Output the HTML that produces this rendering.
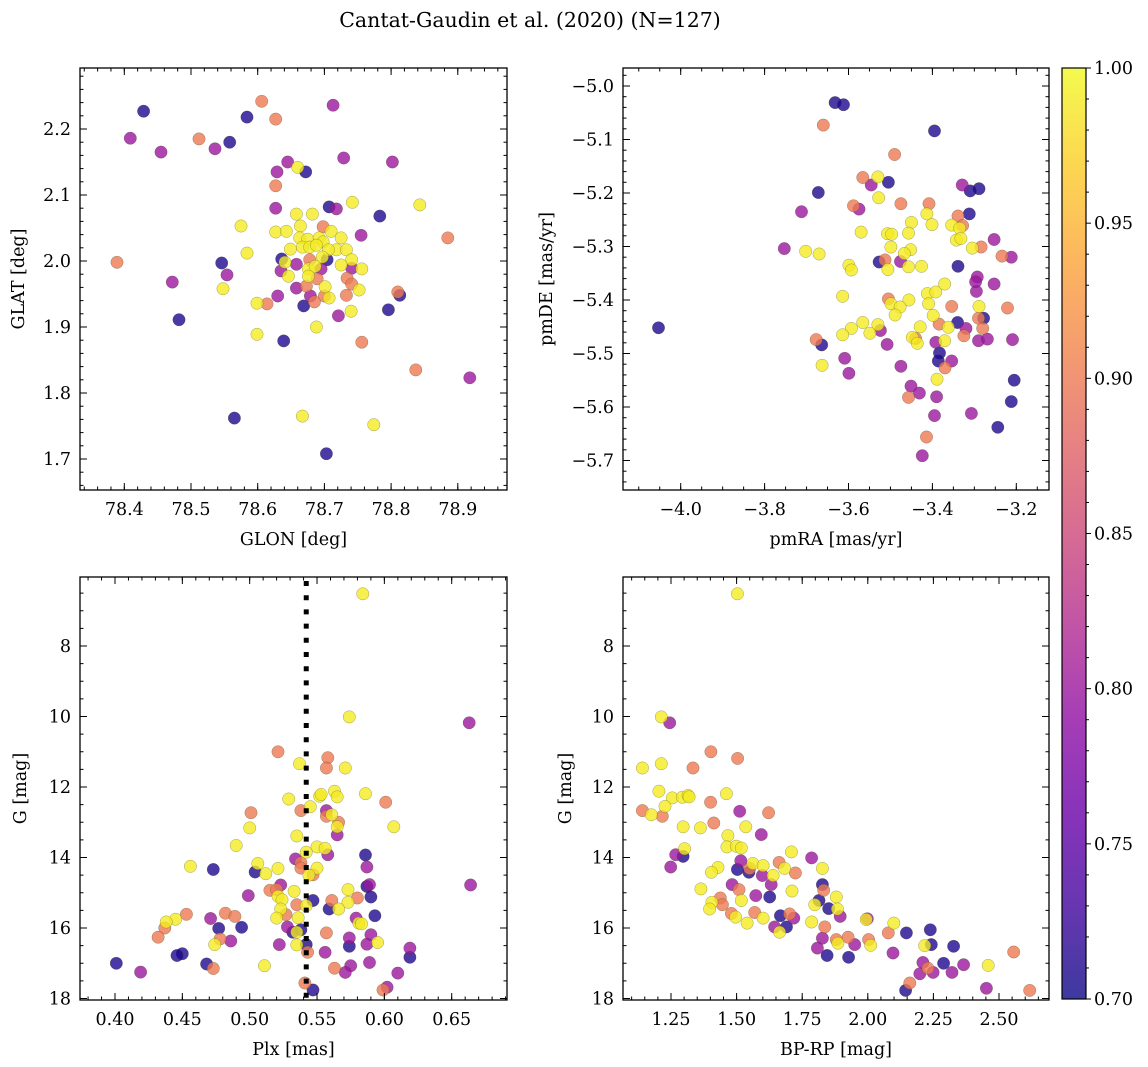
<!DOCTYPE html>
<html><head><meta charset="utf-8">
<style>
html,body{margin:0;padding:0;background:#fff;}
svg{display:block;font-family:"DejaVu Serif","Liberation Serif",serif;}
</style></head>
<body>
<svg id="fig" width="1148" height="1067" viewBox="0 0 1148 1067" xmlns="http://www.w3.org/2000/svg">
<defs>
<linearGradient id="cbgrad" x1="0" y1="1" x2="0" y2="0">
<stop offset="0" stop-color="#0d0887"/><stop offset="0.1" stop-color="#41049d"/><stop offset="0.2" stop-color="#6a00a8"/><stop offset="0.3" stop-color="#8f0da4"/><stop offset="0.4" stop-color="#b12a90"/><stop offset="0.5" stop-color="#cc4778"/><stop offset="0.6" stop-color="#e16462"/><stop offset="0.7" stop-color="#f2844b"/><stop offset="0.8" stop-color="#fca636"/><stop offset="0.9" stop-color="#fcce25"/><stop offset="1" stop-color="#f0f921"/>
</linearGradient>
</defs>
<text x="530" y="27" text-anchor="middle" font-size="20.5">Cantat-Gaudin et al. (2020) (N=127)</text>
</svg>
<script>
// ---- Panel 1: GLON vs GLAT ----
const tlGlon=[78.429,78.409,78.455,78.512,78.536,78.558,78.584,78.606,78.627,78.713,78.729,78.802,78.645,78.629,78.660,78.672,78.627,78.627,78.707,78.718,78.742,78.783,78.843,78.885,78.575,78.584,78.389,78.546,78.554,78.472,78.548,78.482,78.599,78.614,78.630,78.599,78.639,78.565,78.667,78.774,78.703,78.837,78.918,78.756,78.796,78.813,78.810,78.740,78.721,78.688,78.669,
78.658,78.682,78.664,78.627,78.643,78.698,78.710,78.725,78.755,78.663,78.675,78.692,78.698,78.649,78.667,78.678,78.688,78.718,78.733,78.706,78.704,78.636,78.697,78.641,78.658,78.678,78.741,78.725,78.756,78.741,78.676,78.686,78.695,78.635,78.646,78.676,78.689,78.734,78.741,78.658,78.673,78.701,78.752,78.679,78.700,78.707,78.733,78.685];
const tlGlat=[2.227,2.186,2.165,2.185,2.170,2.180,2.218,2.242,2.215,2.236,2.156,2.150,2.150,2.135,2.142,2.135,2.114,2.080,2.082,2.079,2.089,2.068,2.085,2.035,2.053,2.012,1.998,1.997,1.979,1.968,1.958,1.911,1.936,1.935,1.947,1.889,1.879,1.762,1.765,1.752,1.708,1.835,1.823,1.877,1.926,1.948,1.953,1.924,1.917,1.900,1.932,
2.071,2.071,2.053,2.044,2.045,2.052,2.045,2.035,2.039,2.035,2.033,2.035,2.029,2.018,2.021,2.021,2.024,2.017,2.017,2.017,2.002,2.003,2.006,1.998,1.995,2.002,2.002,1.994,1.988,1.989,1.988,1.992,1.988,1.985,1.977,1.977,1.973,1.974,1.965,1.959,1.962,1.961,1.956,1.947,1.947,1.944,1.948,1.938];
const tlProb=[0.71,0.80,0.80,0.90,0.80,0.71,0.71,0.90,0.90,0.80,0.80,0.80,0.80,0.80,0.99,0.71,0.90,0.80,0.71,0.80,0.99,0.71,0.99,0.90,0.99,0.99,0.90,0.71,0.80,0.80,0.99,0.71,0.99,0.90,0.80,0.99,0.71,0.71,0.99,0.99,0.71,0.90,0.80,0.90,0.71,0.71,0.90,0.99,0.80,0.99,0.71,
0.99,0.99,0.99,0.99,0.99,0.90,0.99,0.99,0.80,0.99,0.99,0.99,0.99,0.99,0.99,0.99,0.99,0.99,0.99,0.99,0.71,0.71,0.99,0.99,0.80,0.90,0.99,0.99,0.99,0.80,0.99,0.99,0.80,0.80,0.99,0.99,0.90,0.90,0.90,0.80,0.90,0.99,0.99,0.80,0.90,0.99,0.90,0.90];

// ---- Panel 2: pmRA vs pmDE ----
const trPmra=[-4.053,-3.632,-3.612,-3.660,-3.395,-3.490,-3.566,-3.530,-3.546,-3.505,-3.329,-3.310,-3.289,-3.672,-3.528,-3.712,-3.588,-3.575,-3.475,-3.408,-3.413,-3.401,-3.450,-3.312,-3.339,-3.354,-3.328,-3.335,-3.343,-3.332,-3.305,-3.284,-3.253,-3.234,-3.212,-3.570,-3.507,-3.497,-3.457,-3.499,-3.452,-3.467,-3.753,-3.702,-3.670,-3.599,-3.593,-3.527,-3.513,-3.476,-3.506,-3.457,-3.426,-3.339,-3.293,-3.297,-3.295,-3.253,-3.614,-3.412,-3.392,-3.371,-3.409,-3.456,-3.505,-3.499,-3.477,-3.489,-3.398,-3.354,-3.289,-3.221,-3.278,-3.290,-3.340,-3.384,-3.362,-3.320,-3.280,-3.325,-3.429,-3.566,-3.593,-3.614,-3.549,-3.530,-3.524,-3.677,-3.664,-3.663,-3.609,-3.599,-3.508,-3.448,-3.440,-3.436,-3.392,-3.371,-3.383,-3.386,-3.354,-3.370,-3.290,-3.269,-3.209,-3.475,-3.389,-3.451,-3.431,-3.457,-3.390,-3.205,-3.212,-3.395,-3.307,-3.244,-3.414,-3.424];
const trPmde=[-5.452,-5.031,-5.035,-5.073,-5.084,-5.128,-5.171,-5.170,-5.185,-5.180,-5.185,-5.196,-5.192,-5.199,-5.209,-5.235,-5.224,-5.230,-5.220,-5.220,-5.239,-5.259,-5.255,-5.239,-5.243,-5.260,-5.261,-5.266,-5.288,-5.285,-5.303,-5.301,-5.287,-5.318,-5.320,-5.273,-5.276,-5.277,-5.275,-5.301,-5.306,-5.313,-5.304,-5.309,-5.314,-5.335,-5.344,-5.329,-5.325,-5.328,-5.343,-5.338,-5.337,-5.337,-5.357,-5.366,-5.384,-5.370,-5.393,-5.388,-5.385,-5.370,-5.407,-5.400,-5.398,-5.407,-5.413,-5.428,-5.429,-5.412,-5.412,-5.415,-5.434,-5.434,-5.442,-5.445,-5.451,-5.453,-5.453,-5.467,-5.450,-5.442,-5.453,-5.465,-5.462,-5.446,-5.457,-5.474,-5.484,-5.522,-5.509,-5.537,-5.483,-5.470,-5.472,-5.481,-5.479,-5.476,-5.499,-5.514,-5.514,-5.527,-5.476,-5.473,-5.474,-5.524,-5.548,-5.561,-5.574,-5.582,-5.581,-5.550,-5.590,-5.616,-5.612,-5.638,-5.656,-5.691];
const trProb=[0.71,0.71,0.71,0.90,0.71,0.90,0.90,0.99,0.80,0.71,0.80,0.71,0.71,0.71,0.99,0.80,0.90,0.80,0.90,0.90,0.99,0.99,0.99,0.71,0.90,0.99,0.90,0.99,0.99,0.99,0.99,0.90,0.80,0.90,0.80,0.99,0.99,0.99,0.99,0.99,0.99,0.99,0.80,0.99,0.99,0.99,0.99,0.71,0.90,0.80,0.99,0.99,0.99,0.71,0.80,0.80,0.80,0.80,0.99,0.99,0.99,0.99,0.99,0.99,0.90,0.99,0.99,0.99,0.99,0.90,0.99,0.90,0.71,0.90,0.71,0.90,0.99,0.80,0.90,0.90,0.99,0.99,0.99,0.99,0.99,0.99,0.80,0.90,0.71,0.99,0.80,0.80,0.80,0.99,0.90,0.99,0.80,0.99,0.71,0.71,0.80,0.90,0.80,0.80,0.80,0.80,0.99,0.80,0.80,0.90,0.80,0.71,0.71,0.80,0.80,0.71,0.90,0.80];

// ---- Panel 3: Plx vs G ----
const blPlx=[0.584,0.574,0.663,0.521,0.537,0.558,0.557,0.571,0.529,0.552,0.553,0.563,0.565,0.586,0.601,0.545,0.538,0.557,0.501,0.561,0.557,0.566,0.565,0.565,0.500,0.607,0.535,0.490,0.550,0.556,0.558,0.542,0.586,0.534,0.538,0.456,0.473,0.506,0.504,0.512,0.521,0.538,0.550,0.547,0.544,0.587,0.664,0.587,0.589,0.523,0.499,0.515,0.520,0.533,0.521,0.524,0.547,0.561,0.573,0.580,0.590,0.573,0.535,0.542,0.559,0.566,0.523,0.527,0.520,0.536,0.482,0.489,0.471,0.453,0.445,0.438,0.437,0.432,0.477,0.494,0.579,0.593,0.581,0.583,0.528,0.538,0.532,0.535,0.557,0.574,0.590,0.595,0.587,0.574,0.478,0.486,0.474,0.522,0.535,0.542,0.543,0.556,0.619,0.619,0.589,0.450,0.446,0.401,0.419,0.468,0.473,0.511,0.563,0.575,0.571,0.610,0.541,0.547,0.602,0.599];
const blG=[6.52,10.01,10.18,11.00,11.34,11.17,11.46,11.46,12.34,12.26,12.21,12.12,12.28,12.19,12.43,12.56,12.67,12.67,12.73,12.79,12.83,13.00,13.13,13.36,13.16,13.13,13.39,13.66,13.70,13.74,13.92,13.85,13.93,14.04,14.15,14.25,14.34,14.17,14.41,14.46,14.31,14.30,14.30,14.49,14.50,14.27,14.78,14.82,14.77,14.78,15.08,14.93,14.91,14.96,15.10,15.20,15.22,15.22,14.91,15.15,15.12,15.27,15.34,15.37,15.46,15.46,15.46,15.62,15.72,15.71,15.58,15.67,15.73,15.61,15.75,15.83,16.00,16.26,16.01,15.98,15.72,15.65,15.86,15.88,15.97,16.05,16.12,16.12,16.14,16.28,16.19,16.41,16.46,16.52,16.31,16.37,16.47,16.47,16.48,16.47,16.69,16.69,16.57,16.83,16.98,16.73,16.78,17.00,17.25,17.02,17.15,17.07,17.14,17.07,17.26,17.28,17.56,17.76,17.68,17.76];
const blProb=[0.99,0.99,0.80,0.90,0.99,0.90,0.90,0.99,0.99,0.99,0.99,0.99,0.99,0.99,0.90,0.99,0.90,0.80,0.90,0.99,0.90,0.90,0.99,0.80,0.99,0.99,0.99,0.99,0.99,0.99,0.80,0.99,0.71,0.80,0.90,0.99,0.71,0.99,0.71,0.99,0.99,0.90,0.99,0.90,0.99,0.80,0.80,0.71,0.80,0.80,0.80,0.90,0.90,0.99,0.99,0.99,0.71,0.90,0.99,0.90,0.71,0.99,0.90,0.99,0.71,0.99,0.99,0.90,0.99,0.99,0.90,0.90,0.80,0.90,0.99,0.99,0.90,0.90,0.71,0.71,0.80,0.71,0.99,0.99,0.80,0.71,0.71,0.99,0.90,0.80,0.80,0.99,0.80,0.71,0.90,0.80,0.99,0.80,0.99,0.71,0.90,0.80,0.80,0.71,0.80,0.71,0.71,0.71,0.80,0.71,0.90,0.99,0.90,0.80,0.80,0.80,0.90,0.71,0.80,0.90];
const plxMean=[0.542];

// ---- Panel 4: BP-RP vs G ----
const brColor=[1.503,1.213,1.245,1.402,1.504,1.141,1.213,1.334,1.204,1.255,1.293,1.315,1.319,1.461,1.401,1.227,1.141,1.175,1.217,1.512,1.622,1.296,1.362,1.413,1.535,1.594,1.467,1.463,1.499,1.518,1.302,1.268,1.296,1.249,1.429,1.404,1.503,1.516,1.547,1.550,1.562,1.601,1.598,1.639,1.662,1.683,1.709,1.724,1.786,1.827,1.483,1.509,1.632,1.364,1.573,1.626,1.711,1.518,1.438,1.446,1.406,1.397,1.480,1.496,1.540,1.569,1.601,1.667,1.702,1.718,1.645,1.690,1.664,1.827,1.832,1.814,1.798,1.851,1.880,1.884,1.895,1.786,1.836,1.827,1.808,1.845,1.880,1.886,1.925,1.950,1.927,1.998,1.994,2.003,2.011,2.099,2.078,2.147,2.096,2.238,2.242,2.217,2.327,2.289,2.210,2.229,2.249,2.198,2.321,2.365,2.459,2.556,2.160,2.144,2.452,2.617];
const brG=[6.52,10.01,10.18,11.00,11.19,11.46,11.34,11.46,12.12,12.31,12.29,12.24,12.28,12.19,12.43,12.55,12.67,12.79,12.83,12.69,12.73,13.13,13.16,13.02,13.13,13.35,13.38,13.70,13.68,13.73,13.75,13.92,13.97,14.27,14.28,14.42,14.34,14.09,14.42,14.31,14.17,14.23,14.51,14.51,14.14,14.31,13.84,14.44,14.01,14.31,14.77,14.91,14.77,14.89,15.08,15.12,14.95,15.22,15.15,15.34,15.27,15.46,15.59,15.69,15.86,15.56,15.72,15.65,15.60,15.72,15.97,15.97,16.12,14.77,14.93,15.22,15.34,15.45,15.12,15.46,15.67,15.83,15.97,16.29,16.57,16.78,16.33,16.43,16.26,16.47,16.83,15.74,15.76,16.33,16.49,15.86,16.14,16.14,16.71,16.05,16.47,16.50,16.52,17.00,16.98,17.14,17.26,17.30,17.26,17.04,17.06,16.68,17.56,17.77,17.71,17.77];
const brProb=[0.99,0.99,0.80,0.90,0.90,0.99,0.99,0.90,0.99,0.99,0.99,0.99,0.99,0.99,0.90,0.99,0.90,0.99,0.90,0.80,0.90,0.99,0.99,0.90,0.99,0.80,0.99,0.99,0.99,0.99,0.99,0.80,0.71,0.80,0.99,0.99,0.71,0.80,0.71,0.90,0.99,0.99,0.80,0.99,0.90,0.99,0.99,0.90,0.80,0.99,0.80,0.90,0.80,0.99,0.80,0.71,0.99,0.99,0.90,0.90,0.99,0.99,0.90,0.99,0.99,0.90,0.99,0.71,0.90,0.80,0.80,0.71,0.99,0.71,0.90,0.71,0.99,0.71,0.99,0.99,0.80,0.99,0.90,0.80,0.80,0.71,0.90,0.99,0.90,0.80,0.71,0.80,0.99,0.90,0.99,0.99,0.90,0.71,0.80,0.71,0.71,0.99,0.71,0.71,0.80,0.90,0.80,0.80,0.80,0.80,0.99,0.90,0.90,0.71,0.80,0.90];

// colorbar ticks
const cbTicks=[0.70,0.75,0.80,0.85,0.90,0.95,1.00];

const NS="http://www.w3.org/2000/svg";
const svg=document.getElementById('fig');
const stops=[[0,13,8,135],[0.1,65,4,157],[0.2,106,0,168],[0.3,143,13,164],[0.4,177,42,144],[0.5,204,71,120],[0.6,225,100,98],[0.7,242,132,75],[0.8,252,166,54],[0.9,252,206,37],[1,240,249,33]];
function plasma(v){
  let t=(v-0.7)/0.3; t=Math.max(0,Math.min(1,t));
  for(let i=0;i<stops.length-1;i++){
    const a=stops[i],b=stops[i+1];
    if(t<=b[0]){const f=(t-a[0])/(b[0]-a[0]);
      return 'rgb('+[1,2,3].map(k=>Math.round(a[k]+(b[k]-a[k])*f)).join(',')+')';}
  }
  return 'rgb(240,249,33)';
}
function mk(tag,attrs,parent){const e=document.createElementNS(NS,tag);for(const k in attrs)e.setAttribute(k,attrs[k]);(parent||svg).appendChild(e);return e;}
function fmt(v,d){const s=Math.abs(v).toFixed(d);return (v<-1e-9?'\u2212':'')+s;}

function panel(cfg){
  const g=mk('g',{});
  
  
  const X=v=>cfg.xp0+(v-cfg.xv0)*cfg.xk;
  const Y=v=>cfg.yp0+(v-cfg.yv0)*cfg.yk;
  const idx=cfg.xs.map((_,i)=>i).sort((a,b)=>cfg.ps[a]-cfg.ps[b]);
  const pg=mk('g',{},g);
  
  
  idx.forEach(i=>{
    const c=mk('circle',{cx:X(cfg.xs[i]).toFixed(1),cy:Y(cfg.ys[i]).toFixed(1),r:6.2,fill:plasma(cfg.ps[i]),'fill-opacity':0.8,stroke:'rgba(60,60,20,0.45)','stroke-width':0.5},pg);
    
    
  });
  if(cfg.vline){
    cfg.vline.forEach(v=>{
      const l=mk('line',{x1:X(v),x2:X(v),y1:cfg.y0+4,y2:cfg.y1,stroke:'#000','stroke-width':5,'stroke-dasharray':'5 9.2'},g);
      
      
    });
  }
  const fr=mk('rect',{x:cfg.x0,y:cfg.y0,width:cfg.x1-cfg.x0,height:cfg.y1-cfg.y0,fill:'none',stroke:'#000','stroke-width':1.3},g);
  
  
  const tg=mk('g',{stroke:'#000','stroke-width':1},g);
  
  
  function xticks(step,len){
    const s=Math.ceil((cfg.xmin)/step-1e-6);
    for(let k=s;k*step<=cfg.xmax+1e-9;k++){const p=X(k*step);if(p<cfg.x0+1||p>cfg.x1-1)continue;
      mk('line',{x1:p,x2:p,y1:cfg.y1,y2:cfg.y1-len},tg);mk('line',{x1:p,x2:p,y1:cfg.y0,y2:cfg.y0+len},tg);}
  }
  function yticks(step,len){
    const lo=Math.min(cfg.ymin,cfg.ymax),hi=Math.max(cfg.ymin,cfg.ymax);
    const s=Math.ceil(lo/step-1e-6);
    for(let k=s;k*step<=hi+1e-9;k++){const p=Y(k*step);if(p<cfg.y0+1||p>cfg.y1-1)continue;
      mk('line',{x1:cfg.x0,x2:cfg.x0+len,y1:p,y2:p},tg);mk('line',{x1:cfg.x1,x2:cfg.x1-len,y1:p,y2:p},tg);}
  }
  xticks(cfg.xminor,3.5);xticks(cfg.xmajor,7);
  yticks(cfg.yminor,3.5);yticks(cfg.ymajor,7);
  cfg.xlabels.forEach(v=>{
    const t=mk('text',{x:X(v),y:cfg.y1+25,'text-anchor':'middle','font-size':17.5},g);
    t.textContent=fmt(v,cfg.xdec);
    
    
  });
  cfg.ylabels.forEach(v=>{
    const t=mk('text',{x:cfg.x0-9,y:Y(v)+6,'text-anchor':'end','font-size':17.5},g);
    t.textContent=fmt(v,cfg.ydec);
    
    
  });
  const xt=mk('text',{x:(cfg.x0+cfg.x1)/2,y:cfg.y1+55,'text-anchor':'middle','font-size':17.5},g);
  xt.textContent=cfg.xtitle;
  
  
  const ym=(cfg.y0+cfg.y1)/2;
  const yt=mk('text',{x:cfg.ytx,y:ym,'text-anchor':'middle','font-size':17.5,transform:'rotate(-90 '+cfg.ytx+' '+ym+')'},g);
  yt.textContent=cfg.ytitle;
  
  
}

panel({name:'glon-glat-panel',x0:80,x1:507,y0:68,y1:490,xs:tlGlon,ys:tlGlat,ps:tlProb,
  xv0:78.4,xp0:124.3,xk:667,yv0:2.2,yp0:129,yk:-660,xmin:78.33,xmax:78.98,ymin:1.65,ymax:2.30,
  xmajor:0.1,xminor:0.02,ymajor:0.1,yminor:0.02,xlabels:[78.4,78.5,78.6,78.7,78.8,78.9],xdec:1,ylabels:[1.7,1.8,1.9,2.0,2.1,2.2],ydec:1,
  xtitle:'GLON [deg]',ytitle:'GLAT [deg]',ytx:24});
panel({name:'proper-motion-panel',x0:623,x1:1049,y0:68,y1:490,xs:trPmra,ys:trPmde,ps:trProb,
  xv0:-4.0,xp0:680.7,xk:419.5,yv0:-5.0,yp0:86,yk:-535,xmin:-4.14,xmax:-3.12,ymin:-5.76,ymax:-4.96,
  xmajor:0.2,xminor:0.05,ymajor:0.1,yminor:0.02,xlabels:[-4.0,-3.8,-3.6,-3.4,-3.2],xdec:1,ylabels:[-5.0,-5.1,-5.2,-5.3,-5.4,-5.5,-5.6,-5.7],ydec:1,
  xtitle:'pmRA [mas/yr]',ytitle:'pmDE [mas/yr]',ytx:552});
panel({name:'parallax-magnitude-panel',x0:80,x1:507,y0:577,y1:1000,xs:blPlx,ys:blG,ps:blProb,vline:plxMean,
  xv0:0.40,xp0:115,xk:1346.8,yv0:8,yp0:646,yk:35.25,xmin:0.37,xmax:0.70,ymin:6,ymax:18.1,
  xmajor:0.05,xminor:0.01,ymajor:2,yminor:0.5,xlabels:[0.40,0.45,0.50,0.55,0.60,0.65],xdec:2,ylabels:[8,10,12,14,16,18],ydec:0,
  xtitle:'Plx [mas]',ytitle:'G [mag]',ytx:26});
panel({name:'color-magnitude-panel',x0:623,x1:1049,y0:577,y1:1000,xs:brColor,ys:brG,ps:brProb,
  xv0:1.25,xp0:671,xk:262.4,yv0:8,yp0:646,yk:35.25,xmin:1.05,xmax:2.70,ymin:6,ymax:18.1,
  xmajor:0.25,xminor:0.05,ymajor:2,yminor:0.5,xlabels:[1.25,1.50,1.75,2.00,2.25,2.50],xdec:2,ylabels:[8,10,12,14,16,18],ydec:0,
  xtitle:'BP-RP [mag]',ytitle:'G [mag]',ytx:571});

const cb=mk('g',{});


const CY=v=>999-(v-0.70)/0.30*931;
const cr=mk('rect',{x:1062,y:68,width:24,height:931,fill:'url(#cbgrad)','fill-opacity':0.8,stroke:'#000','stroke-width':1.2},cb);


for(let k=70;k<=100;k++){const y=CY(k/100);const major=(k%5===0);
  mk('line',{x1:1086,x2:1086+(major?5:3),y1:y,y2:y,stroke:'#000','stroke-width':1},cb);}
cbTicks.forEach(v=>{
  const t=mk('text',{x:1094,y:CY(v)+6,'font-size':17.5},cb);
  t.textContent=v.toFixed(2);
  
  
});
</script>
</body></html>
